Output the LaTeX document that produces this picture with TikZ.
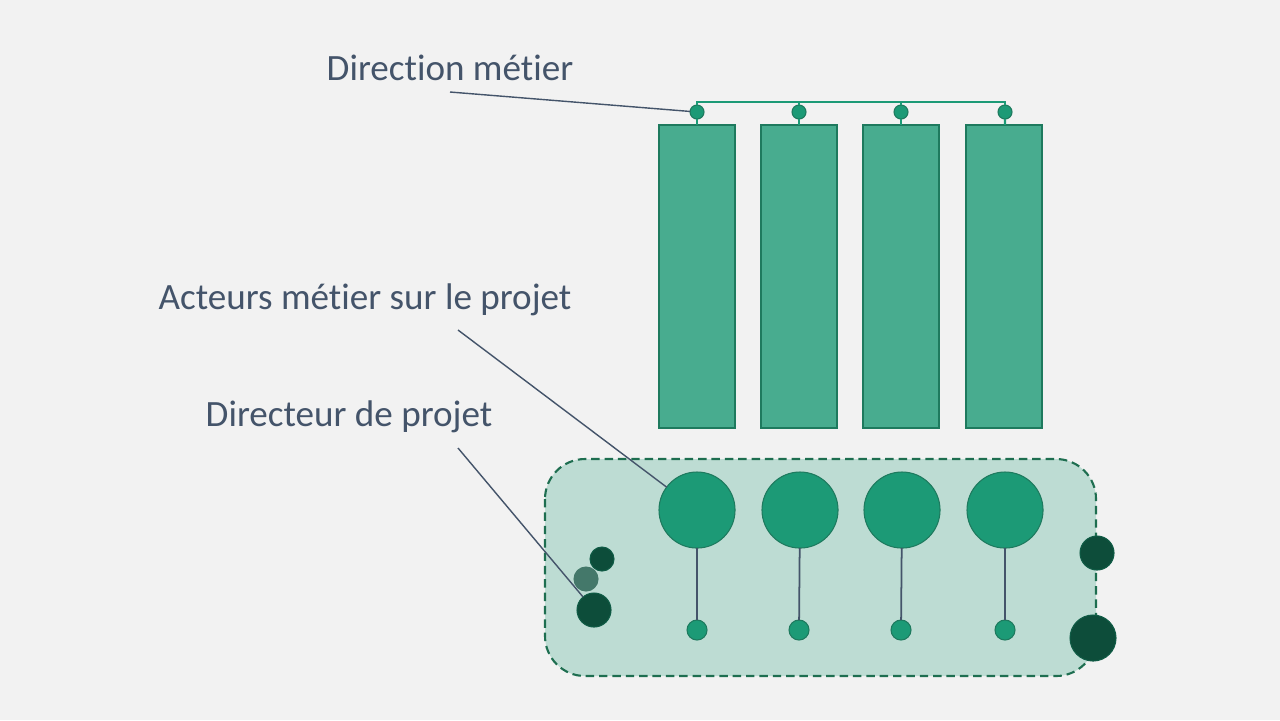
\documentclass[tikz,border=0pt]{standalone}
\usepackage{fontspec}
\setmainfont{Carlito}[Ligatures=NoCommon]
\usepackage{xcolor}
\definecolor{bgcol}{HTML}{F2F2F2}
\definecolor{colfill}{HTML}{48AC8F}
\definecolor{coledge}{HTML}{1E7A5E}
\definecolor{dotcol}{HTML}{1C9A76}
\definecolor{teamfill}{HTML}{BDDCD3}
\definecolor{teamedge}{HTML}{1E6E50}
\definecolor{darkdot}{HTML}{0D4D3A}
\definecolor{middot}{HTML}{44786A}
\definecolor{txtcol}{HTML}{44546A}
\begin{document}
\begin{tikzpicture}[x=0.01cm,y=-0.01cm]
	\fill[bgcol] (0,0) rectangle (1280,720);
	\tikzstyle{every node}=[inner sep=0pt, outer sep=0pt]
	% equipe projet
	\draw[teamedge, fill=teamfill, dash pattern=on 2.4pt off 1.4pt, line width=0.6pt, rounded corners=0.4cm] (545,459) rectangle (1096,676);
	% colonnes metier
	\tikzstyle{every node}=[inner sep=0pt, outer sep=0pt, draw=coledge, fill=colfill, line width=0.4pt, minimum width=0.76cm, minimum height=3.03cm]
	\draw (697,276.5) node (r1) {};
	\draw (799,276.5) node (r2) {};
	\draw (901,276.5) node (r3) {};
	\draw (1004,276.5) node (r4) {};
	\tikzstyle{every node}=[circle, inner sep=0pt, outer sep=0pt, draw=coledge, fill=dotcol, line width=0.3pt, minimum size=0.14cm]
	\draw (697,112) node (d1) {};
	\draw (799,112) node (d2) {};
	\draw (901,112) node (d3) {};
	\draw (1005,112) node (d4) {};
	\coordinate (t1) at (697,102);
	\coordinate (t4) at (1005,102);
	\draw[dotcol, line width=0.6pt] (d1) -- (t1) -- (t4) -- (d4);
	\draw[dotcol, line width=0.6pt] (d2) -- (d2 |- t1);
	\draw[dotcol, line width=0.6pt] (d3) -- (d3 |- t1);
	\draw[dotcol, line width=0.6pt] (d1) -- (r1);
	\draw[dotcol, line width=0.6pt] (d2) -- (r2);
	\draw[dotcol, line width=0.6pt] (d3) -- (r3);
	\draw[dotcol, line width=0.6pt] (d4) -- (r4);
	% acteurs
	\tikzstyle{every node}=[circle, inner sep=0pt, outer sep=0pt, draw=coledge, fill=dotcol, line width=0.3pt, minimum size=0.76cm]
	\draw (697,510) node (a1) {};
	\draw (800,510) node (a2) {};
	\draw (902,510) node (a3) {};
	\draw (1005,510) node (a4) {};
	\tikzstyle{every node}=[circle, inner sep=0pt, outer sep=0pt, draw=coledge, fill=dotcol, line width=0.3pt, minimum size=0.2cm]
	\draw (697,630) node (s1) {};
	\draw (799,630) node (s2) {};
	\draw (901,630) node (s3) {};
	\draw (1005,630) node (s4) {};
	\draw[txtcol, line width=0.5pt] (a1) -- (s1);
	\draw[txtcol, line width=0.5pt] (a2) -- (s2);
	\draw[txtcol, line width=0.5pt] (a3) -- (s3);
	\draw[txtcol, line width=0.5pt] (a4) -- (s4);
	% directeur et autres
	\tikzstyle{every node}=[circle, inner sep=0pt, outer sep=0pt, draw=darkdot!80!dotcol, fill=darkdot, line width=0.3pt]
	\draw (602,559) node[minimum size=0.24cm] (p1) {};
	\draw (586,579) node[minimum size=0.24cm, fill=middot, draw=middot] (p2) {};
	\draw (594,610) node[minimum size=0.34cm] (dp) {};
	\draw (1097,553) node[minimum size=0.34cm] (q1) {};
	\draw (1093,638) node[minimum size=0.46cm] (q2) {};
	% libelles
	\tikzstyle{every node}=[text=txtcol, font=\fontsize{10.55}{12}\selectfont, inner sep=0pt]
	\draw (326,68) node[anchor=west] (dm) {Direction métier};
	\draw (158,300) node[anchor=west] (am) {Acteurs métier sur le projet};
	\draw (205,417) node[anchor=west] (dr) {Directeur de projet};
	\coordinate (l1) at (450,92);
	\coordinate (l2) at (458,330);
	\coordinate (l3) at (458,448);
	\draw[txtcol, line width=0.4pt] (l1) -- (d1);
	\draw[txtcol, line width=0.4pt] (l2) -- (a1);
	\draw[txtcol, line width=0.4pt] (l3) -- (dp);
\end{tikzpicture}
\end{document}
